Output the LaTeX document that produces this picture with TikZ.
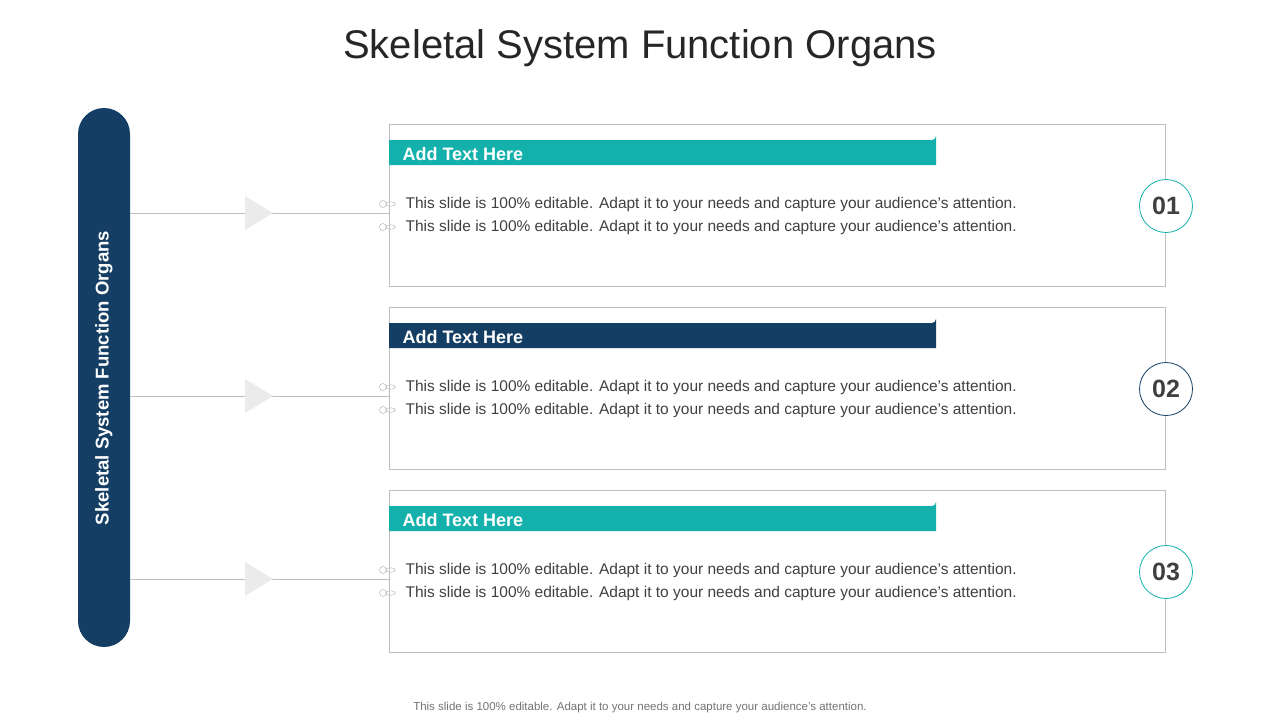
\documentclass[tikz,border=0pt]{standalone}
\usepackage{fontspec}
\setmainfont{Liberation Sans}
\definecolor{teal1}{HTML}{14B1AC}
\definecolor{navy1}{HTML}{143E63}
\definecolor{txt}{HTML}{404040}
\definecolor{tri}{HTML}{EBEBEB}
\definecolor{ln}{HTML}{BFBFBF}
\tikzset{
 panel/.style={draw=ln, line width=0.8pt},
 hdr/.style={rounded corners=4pt},
 hdrtext/.style={anchor=west, text=white, font=\fontsize{18}{20}\selectfont\bfseries},
 body/.style={anchor=west, text=txt, font=\fontsize{15.5}{18}\selectfont},
 num/.style={circle, minimum size=53pt, fill=white, line width=0.8pt, text=txt, font=\fontsize{25}{28}\selectfont\bfseries},
 bul/.style={draw=ln, line width=0.6pt}
}
\begin{document}
\begin{tikzpicture}[x=1pt,y=-1pt]
\useasboundingbox (0,0) rectangle (1280,720);
\node (title) at (640,48) {\fontsize{40}{44}\selectfont\color{black!85}Skeletal System Function Organs};
\fill[navy1, rounded corners=26pt] (78,108) rectangle (130,647);
\node[rotate=90, text=white, font=\fontsize{18.5}{20}\selectfont\bfseries] (side) at (104,378) {Skeletal System Function Organs};
\foreach \i/\y/\c/\n in {1/124/teal1/01, 2/307/navy1/02, 3/490/teal1/03}{
  \pgfmathsetmacro{\yy}{\y+89}
  \coordinate (s\i) at (130,\yy);
  \coordinate (e\i) at (389,\yy);
  \draw[ln, line width=0.8pt] (s\i) -- (e\i);
  \fill[tri] (245,\yy-17) -- (273,\yy) -- (245,\yy+17) -- cycle;
  \draw[panel] (389,\y) rectangle (1165,\y+162);
  \fill[\c] (389,\y+41) -- (389,\y+16) -- (932,\y+16) arc[start angle=90,end angle=0,radius=4] -- (936,\y+41) -- cycle;
  \node[hdrtext] (h\i) at (399,\y+30) {Add Text Here};
  \foreach \k/\dy in {a/80, b/103}{
    \draw[bul] (383,\y+\dy) circle (3.5);
    \draw[bul] (390.5,\y+\dy) ellipse (5 and 2.2);
    \node[body] (t\i\k) at (402,\y+\dy) {This slide is 100\% editable. Adapt it to your needs and capture your audience's attention.};
  }
  \node[num, draw=\c] (n\i) at (1166,\y+82) {\n};
}
\node[text=black!55, font=\fontsize{11.5}{13}\selectfont] (foot) at (640,708) {This slide is 100\% editable. Adapt it to your needs and capture your audience's attention.};
\end{tikzpicture}
\end{document}
